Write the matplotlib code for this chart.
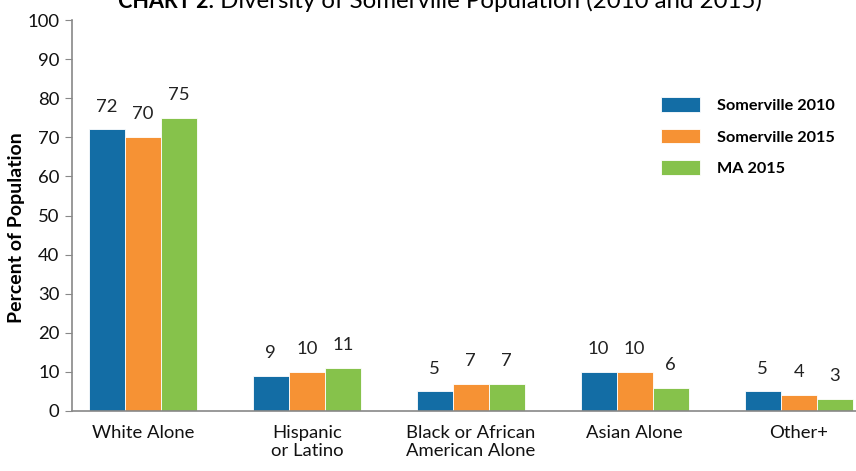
import numpy as np
import matplotlib.pyplot as plt

plt.rcParams['font.family'] = ['Lato', 'DejaVu Sans']

categories = ['White Alone', 'Hispanic\nor Latino', 'Black or African\nAmerican Alone',
              'Asian Alone', 'Other+']
somerville_2010 = [72, 9, 5, 10, 5]
somerville_2015 = [70, 10, 7, 10, 4]
ma_2015 = [75, 11, 7, 6, 3]

series = [('Somerville 2010', somerville_2010, '#136DA5'),
          ('Somerville 2015', somerville_2015, '#F69234'),
          ('MA 2015', ma_2015, '#86C24B')]

fig = plt.figure(figsize=(8.56, 4.71), dpi=100)
ax = fig.add_axes([0.0841, 0.1274, 0.9159, 0.8301])

x = np.arange(len(categories))
w = 0.22
for i, (name, vals, col) in enumerate(series):
    bars = ax.bar(x + (i - 1) * w, vals, w, color=col, label=name,
                  edgecolor='white', linewidth=0.6)
    for b, v in zip(bars, vals):
        ax.annotate(str(v), (b.get_x() + b.get_width() / 2, v),
                    xytext=(0, 16.5), textcoords='offset points',
                    ha='center', va='center', fontsize=13.3, color='#222222')

ax.set_xlim(-0.433, 4.35)
ax.set_ylim(0, 100)
ax.set_yticks(range(0, 101, 10))
ax.set_xticks(x)
ax.set_xticklabels(categories, fontsize=13.3, color='#111111', linespacing=1.15)
ax.tick_params(axis='x', length=0, pad=10)
ax.tick_params(axis='y', length=5, color='#888888', labelsize=13.3, labelcolor='#111111', pad=4)

for s in ['top', 'right']:
    ax.spines[s].set_visible(False)
for s in ['left', 'bottom']:
    ax.spines[s].set_color('#888888')
    ax.spines[s].set_linewidth(1.2)

ax.set_ylabel('Percent of Population', fontsize=14, fontweight='bold')
ax.yaxis.set_label_coords(-0.060, 0.47)

leg = ax.legend(loc='upper left', bbox_to_anchor=(0.733, 0.84), frameon=False,
                fontsize=11.7, handlelength=2.4, handleheight=1.0,
                handletextpad=1.0, labelspacing=0.97)
for t in leg.get_texts():
    t.set_fontweight('bold')

fig.text(0.250, 0.984, 'CHART 2:', fontsize=15.5, fontweight='bold', ha='right', va='baseline')
fig.text(0.250, 0.984, ' Diversity of Somerville Population (2010 and 2015)',
         fontsize=17.3, ha='left', va='baseline')

fig.savefig('out.png', dpi=100)
